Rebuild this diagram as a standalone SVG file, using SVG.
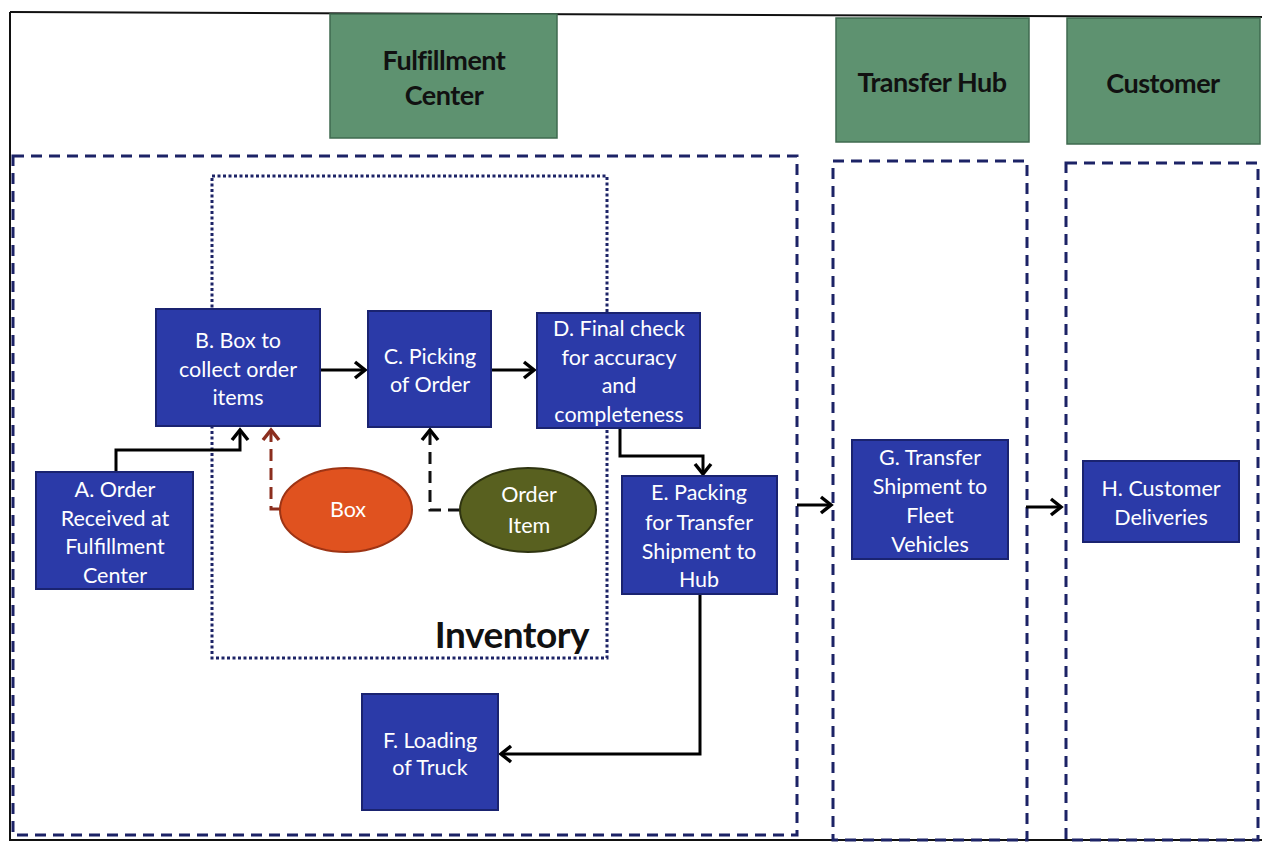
<svg xmlns="http://www.w3.org/2000/svg" width="1262" height="843" viewBox="0 0 1262 843">
<style>
.hdr{fill:#5E9270;stroke:#3f6a4f;stroke-width:1.5}
.hdrt{font-family:Lato,"Liberation Sans",sans-serif;font-weight:bold;font-size:27px;fill:#111;text-anchor:middle;letter-spacing:-0.5px}
.lane{fill:none;stroke:#1c2366;stroke-width:3;stroke-dasharray:11 7}
.inv{fill:none;stroke:#1c2366;stroke-width:3;stroke-dasharray:3 2.5}
.nd{fill:#2B3AA8;stroke:#1a2370;stroke-width:2}
.nt{font-family:Lato,"Liberation Sans",sans-serif;font-size:21.5px;fill:#fff;text-anchor:middle}
.cn{fill:none;stroke:#000;stroke-width:3}
.ah{fill:none;stroke:#000;stroke-width:3.5;stroke-linejoin:miter}
</style>
<rect width="1262" height="843" fill="#fff"/>
<g id="frame">
<path d="M10 12 L1262 17" stroke="#111" stroke-width="2"/>
<path d="M10 12 L10 840 L1262 840" fill="none" stroke="#111" stroke-width="2"/>
</g>
<g id="hdr-fc"><rect class="hdr" x="330" y="14" width="227" height="124"/><text class="hdrt" x="444" y="70">Fulfillment</text><text class="hdrt" x="444" y="105">Center</text></g>
<g id="hdr-th"><rect class="hdr" x="836" y="18" width="193" height="124"/><text class="hdrt" x="932" y="92">Transfer Hub</text></g>
<g id="hdr-cu"><rect class="hdr" x="1067" y="18" width="193" height="126"/><text class="hdrt" x="1163" y="93">Customer</text></g>
<g id="lanes">
<rect class="lane" x="13" y="156" width="784" height="679"/>
<rect class="lane" x="833" y="161" width="194" height="679"/>
<rect class="lane" x="1066" y="163" width="192" height="677"/>
</g>
<g id="inventory">
<rect class="inv" x="212" y="176" width="395" height="482"/>
<text x="589" y="648" font-family="Lato,'Liberation Sans',sans-serif" font-weight="bold" font-size="37" fill="#111" text-anchor="end" letter-spacing="-0.5">Inventory</text>
</g>
<g id="connectors">
<path class="cn" d="M116 472 V450 H240 V430"/><path class="ah" d="M232 440 L240 430 L248 440"/>
<path class="cn" d="M320 370 H364"/><path class="ah" d="M355 362 L365 370 L355 378"/>
<path class="cn" d="M491 370 H533"/><path class="ah" d="M524 362 L534 370 L524 378"/>
<path class="cn" d="M620 428 V456 H703 V472"/><path class="ah" d="M695 464 L703 474 L711 464"/>
<path class="cn" d="M700 594 V754 H502"/><path class="ah" d="M511 746 L501 754 L511 762"/>
<path fill="none" stroke="#8B2E1E" stroke-width="3" stroke-dasharray="12 7" d="M280 509 H271 V432"/><path fill="none" stroke="#8B2E1E" stroke-width="3.5" d="M263 440 L271 430 L279 440"/>
<path fill="none" stroke="#111" stroke-width="3" stroke-dasharray="12 7" d="M460 510 H430 V432"/><path class="ah" d="M422 440 L430 430 L438 440"/>
<path class="cn" d="M797 505 H830"/><path class="ah" d="M821 497 L831 505 L821 513"/>
<path class="cn" d="M1026 507 H1060"/><path class="ah" d="M1051 499 L1061 507 L1051 515"/>
</g>
<g id="A"><rect class="nd" x="36" y="472" width="157" height="117"/><text class="nt" x="115" y="497">A. Order</text><text class="nt" x="115" y="526">Received at</text><text class="nt" x="115" y="554">Fulfillment</text><text class="nt" x="115" y="583">Center</text></g>
<g id="B"><rect class="nd" x="156" y="309" width="164" height="117"/><text class="nt" x="238" y="348">B. Box to</text><text class="nt" x="238" y="377">collect order</text><text class="nt" x="238" y="405">items</text></g>
<g id="C"><rect class="nd" x="368" y="311" width="123" height="116"/><text class="nt" x="430" y="364">C. Picking</text><text class="nt" x="430" y="392">of Order</text></g>
<g id="D"><rect class="nd" x="537" y="313" width="163" height="115"/><text class="nt" x="619" y="336">D. Final check</text><text class="nt" x="619" y="365">for accuracy</text><text class="nt" x="619" y="393">and</text><text class="nt" x="619" y="422">completeness</text></g>
<g id="E"><rect class="nd" x="622" y="476" width="155" height="118"/><text class="nt" x="699" y="500">E. Packing</text><text class="nt" x="699" y="530">for Transfer</text><text class="nt" x="699" y="559">Shipment to</text><text class="nt" x="699" y="587">Hub</text></g>
<g id="F"><rect class="nd" x="362" y="694" width="136" height="116"/><text class="nt" x="430" y="748">F. Loading</text><text class="nt" x="430" y="775">of Truck</text></g>
<g id="G"><rect class="nd" x="852" y="440" width="156" height="119"/><text class="nt" x="930" y="465">G. Transfer</text><text class="nt" x="930" y="494">Shipment to</text><text class="nt" x="930" y="523">Fleet</text><text class="nt" x="930" y="552">Vehicles</text></g>
<g id="H"><rect class="nd" x="1083" y="461" width="156" height="81"/><text class="nt" x="1161" y="496">H. Customer</text><text class="nt" x="1161" y="525">Deliveries</text></g>
<g id="box"><ellipse cx="346" cy="510" rx="66" ry="42" fill="#E0521F" stroke="#9e3414" stroke-width="2"/><text class="nt" x="348" y="517">Box</text></g>
<g id="orderitem"><ellipse cx="528" cy="510" rx="68" ry="42" fill="#58601F" stroke="#2f3410" stroke-width="2"/><text class="nt" x="529" y="502">Order</text><text class="nt" x="529" y="533">Item</text></g>
</svg>
